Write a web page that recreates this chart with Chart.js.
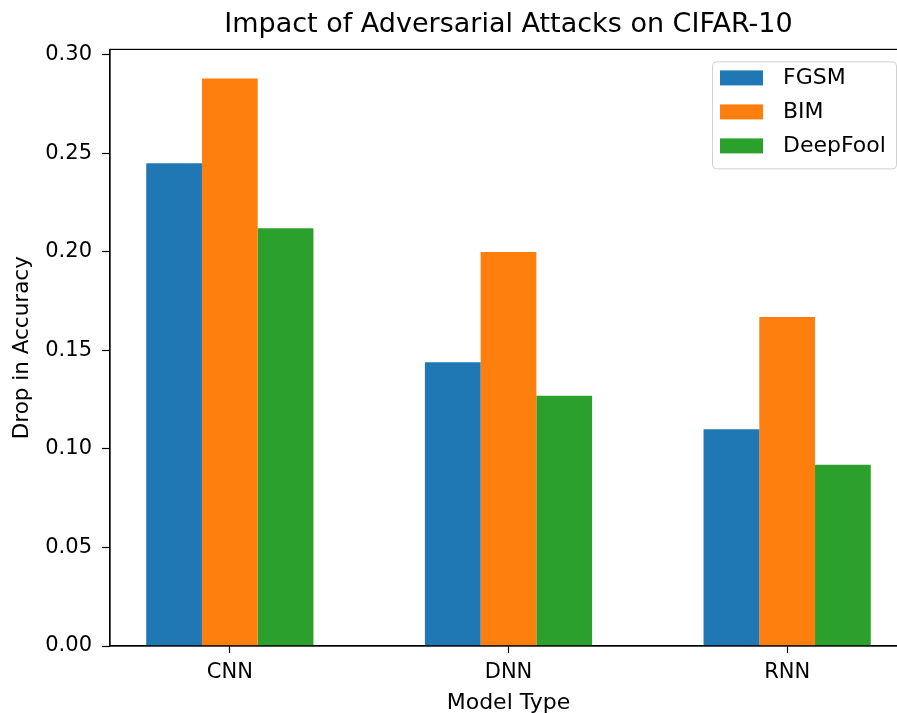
<!DOCTYPE html>
<html>
<head>
<meta charset="utf-8">
<script src="https://cdn.jsdelivr.net/npm/chart.js@4.4.0/dist/chart.umd.min.js"></script>
<style>
    body { margin: 0; background: #fff; }
    #wrap { width: 897px; height: 713px; overflow: hidden; position: relative; }
    canvas { display: block; }
</style>
</head>
<body>
<div id="wrap"><canvas id="chart" width="910" height="730"></canvas></div>
<script>
// chart data
const models = ['CNN', 'DNN', 'RNN'];
const fgsm = [0.245, 0.144, 0.110];
const bim = [0.288, 0.200, 0.167];
const deepfool = [0.212, 0.127, 0.092];
const yTicks = [0.00, 0.05, 0.10, 0.15, 0.20, 0.25, 0.30];

const FONT = "'DejaVu Sans', sans-serif";

function toPoints(arr) {
    return arr.map((v, i) => ({x: i, y: v}));
}

// matplotlib style box around the axes
const frame = {
    id: 'frame',
    afterDatasetsDraw(chart) {
        const a = chart.chartArea;
        const ctx = chart.ctx;
        ctx.save();
        ctx.strokeStyle = '#000';
        ctx.lineWidth = 1.2;
        ctx.strokeRect(a.left, a.top, a.right - a.left, a.bottom - a.top);
        ctx.restore();
    }
};

// legend box in the upper right corner
const boxLegend = {
    id: 'boxLegend',
    afterDraw(chart) {
        const a = chart.chartArea;
        const ctx = chart.ctx;
        const w = 184, h = 107;
        const x = a.right - 11 - w;
        const y = a.top + 12;
        ctx.save();
        ctx.fillStyle = 'rgba(255,255,255,0.8)';
        ctx.strokeStyle = '#d0d0d0';
        ctx.lineWidth = 1;
        ctx.beginPath();
        ctx.roundRect(x + 0.5, y + 0.5, w, h, 4);
        ctx.fill();
        ctx.stroke();
        ctx.font = '22px ' + FONT;
        ctx.textBaseline = 'middle';
        chart.data.datasets.forEach((ds, i) => {
            const cy = y + 17 + i * 34;
            ctx.fillStyle = ds.backgroundColor;
            ctx.fillRect(x + 8, cy - 8, 43, 15);
            ctx.fillStyle = '#000';
            ctx.fillText(ds.label, x + 71, cy);
        });
        ctx.restore();
    }
};

const ctx = document.getElementById('chart').getContext('2d');
new Chart(ctx, {
    type: 'bar',
    data: {
        datasets: [
            {label: 'FGSM', data: toPoints(fgsm), backgroundColor: '#1f77b4'},
            {label: 'BIM', data: toPoints(bim), backgroundColor: '#ff7f0e'},
            {label: 'DeepFool', data: toPoints(deepfool), backgroundColor: '#2ca02c'}
        ]
    },
    options: {
        responsive: false,
        devicePixelRatio: 1,
        animation: false,
        layout: {padding: {left: 0, right: 3, top: 0, bottom: 0}},
        datasets: {
            bar: {categoryPercentage: 0.6, barPercentage: 1.0, borderWidth: 0}
        },
        plugins: {
            legend: {display: false},
            tooltip: {enabled: false},
            title: {
                display: true,
                fullSize: false,
                text: 'Impact of Adversarial Attacks on CIFAR-10',
                color: '#000',
                font: {family: FONT, size: 27, weight: 'normal'},
                padding: {top: 9, bottom: 8}
            }
        },
        scales: {
            x: {
                type: 'linear',
                min: -0.43,
                max: 2.43,
                offset: false,
                afterBuildTicks(scale) {
                    scale.ticks = models.map((m, i) => ({value: i}));
                },
                afterFit(scale) { scale.height = 84; },
                ticks: {
                    color: '#000',
                    font: {family: FONT, size: 21},
                    padding: 7,
                    callback: (v) => models[v]
                },
                grid: {
                    display: true, drawOnChartArea: false, offset: false,
                    drawTicks: true, tickLength: 7, tickWidth: 1.2, color: '#000'
                },
                border: {display: true, color: '#000', width: 1.2},
                title: {
                    display: true, text: 'Model Type', color: '#000',
                    font: {family: FONT, size: 22}, padding: {top: 4, bottom: 14}
                }
            },
            y: {
                min: 0,
                max: 0.3028,
                afterBuildTicks(scale) {
                    scale.ticks = yTicks.map(v => ({value: v}));
                },
                afterFit(scale) { scale.width = 110; },
                ticks: {
                    color: '#000',
                    font: {family: FONT, size: 21},
                    padding: 10,
                    callback: (v) => v.toFixed(2)
                },
                grid: {
                    display: true, drawOnChartArea: false,
                    drawTicks: true, tickLength: 8, tickWidth: 1.2, color: '#000'
                },
                border: {display: true, color: '#000', width: 1.2},
                title: {
                    display: true, text: 'Drop in Accuracy', color: '#000',
                    font: {family: FONT, size: 21.5}, padding: {top: 10, bottom: 6}
                }
            }
        }
    },
    plugins: [frame, boxLegend]
});
</script>
</body>
</html>
